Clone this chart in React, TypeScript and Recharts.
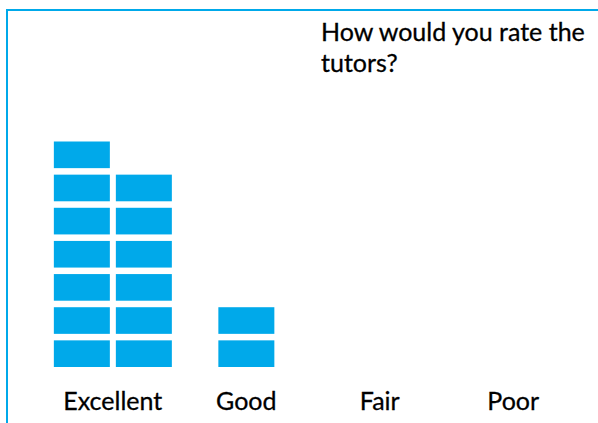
import React from 'react';
import { BarChart, Bar, XAxis, YAxis } from 'recharts';

// survey answers, one block per respondent
const categories = ['Excellent', 'Good', 'Fair', 'Poor'];
const responses = [13, 2, 0, 0];
const blocksPerColumn = 7;

const BLUE = '#00A9EA';
const FONT = 'Lato, "Open Sans", sans-serif';

const data = categories.map((name, i) => ({
  name,
  count: responses[i],
  rows: Math.min(responses[i], blocksPerColumn),
}));

// pictograph shape: splits the count into columns of unit blocks
const BlockStack = (props: any) => {
  const { x, y, width, height, payload } = props;
  const count = payload.count;
  if (!count || !height) return null;
  const unit = height / payload.rows;
  const blockW = 56;
  const colGap = 6;
  const blockH = unit - 6.5;
  const cols: number[] = [];
  for (let left = count; left > 0; left -= blocksPerColumn) cols.push(Math.min(left, blocksPerColumn));
  const totalW = cols.length * blockW + (cols.length - 1) * colGap;
  const x0 = x + width / 2 - totalW / 2;
  const bottom = y + height;
  const rects: React.ReactNode[] = [];
  cols.forEach((n, c) => {
    for (let k = 0; k < n; k++) {
      rects.push(
        <rect
          key={`${c}-${k}`}
          x={x0 + c * (blockW + colGap)}
          y={bottom - (k + 1) * unit + (unit - blockH)}
          width={blockW}
          height={blockH}
          fill={BLUE}
        />
      );
    }
  });
  return <g>{rects}</g>;
};

export default function App() {
  return (
    <div style={{ position: 'absolute', top: 0, left: 0, width: 598, height: 423, background: '#fff', overflow: 'hidden' }}>
      {/* frame lines */}
      <div
        style={{
          position: 'absolute', left: 6, top: 9, width: 600, height: 420,
          borderTop: `2px solid ${BLUE}`, borderLeft: `2px solid ${BLUE}`,
        }}
      />
      <div
        style={{
          position: 'absolute', left: 321, top: 16, width: 285,
          fontFamily: FONT, fontSize: 25, lineHeight: '31px', color: '#000',
          WebkitTextStroke: '0.3px #000',
        }}
      >
        How would you rate the tutors?
      </div>
      <BarChart
        width={598}
        height={423}
        data={data}
        margin={{ top: 135, right: 18, bottom: 0, left: 46 }}
        style={{ position: 'absolute', top: 0, left: 0 }}
      >
        <YAxis hide width={0} domain={[0, blocksPerColumn]} />
        <XAxis
          dataKey="name"
          height={56}
          axisLine={false}
          tickLine={false}
          tickMargin={19}
          tick={{ fill: '#000', fontSize: 25, fontFamily: FONT, stroke: '#000', strokeWidth: 0.3 }}
          interval={0}
        />
        <Bar dataKey="rows" shape={BlockStack} isAnimationActive={false} />
      </BarChart>
    </div>
  );
}
